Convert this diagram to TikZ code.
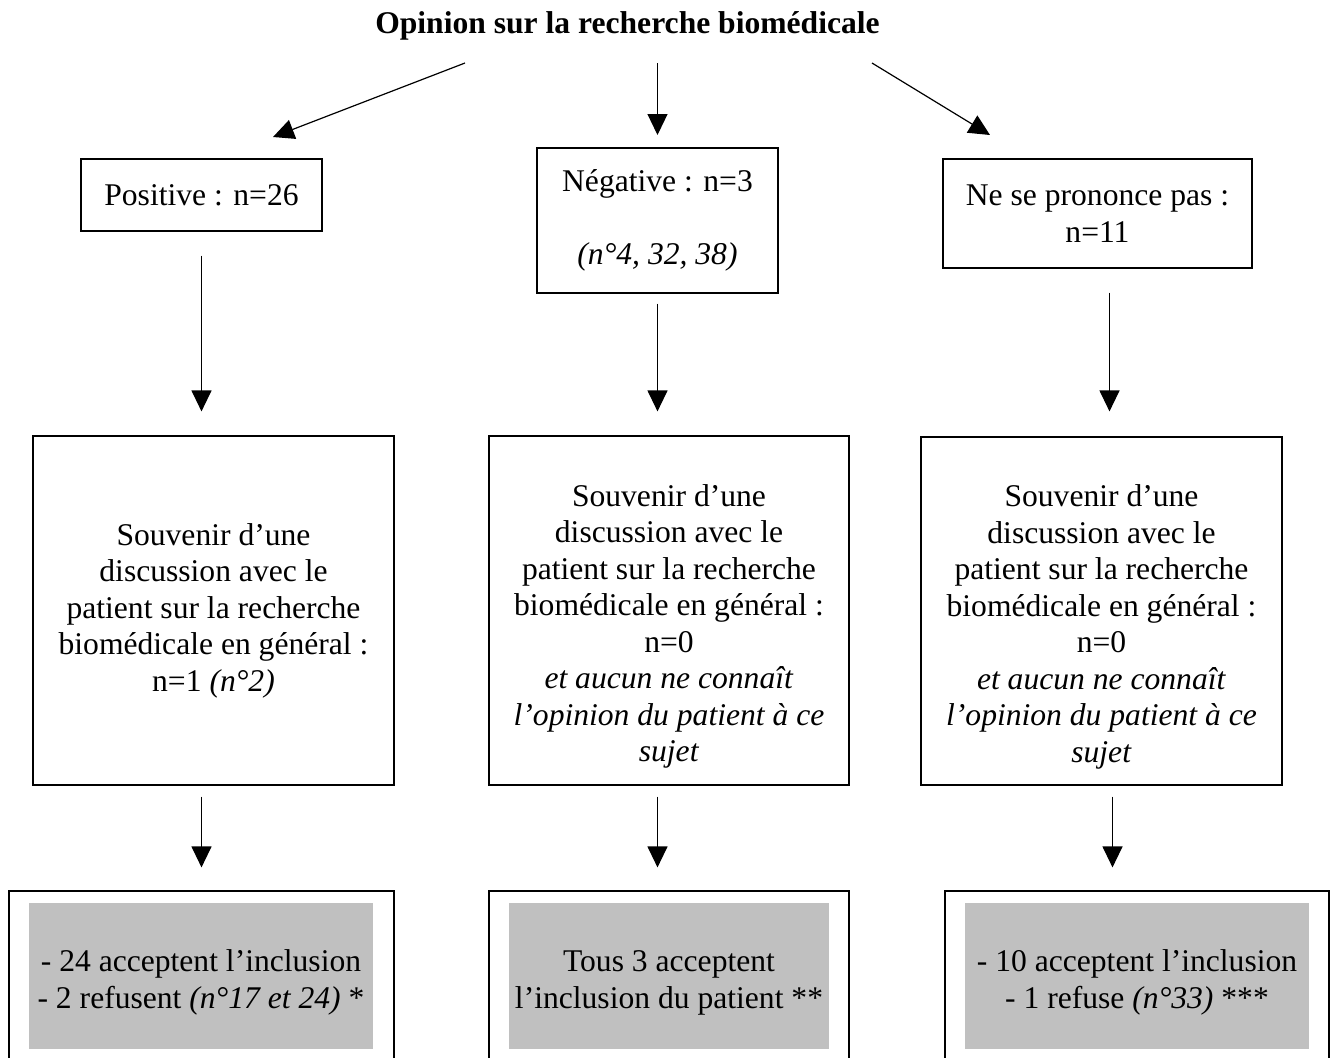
\documentclass[tikz,border=0pt]{standalone}
\definecolor{gris}{RGB}{192,192,192}
\usepackage{fontspec}
\setmainfont{Liberation Serif}
\usetikzlibrary{arrows.meta}
\newcommand{\taillecorps}{\fontsize{15.8}{18.25}\selectfont}

\begin{document}
\begin{tikzpicture}[x=0.5pt, y=-0.5pt,
    boite/.style={draw, line width=0.6pt, inner sep=0pt, align=center, font=\taillecorps},
    grise/.style={fill=gris, inner sep=0pt, align=center, font=\taillecorps},
    fleche/.style={-{Triangle[width=10pt,length=10.5pt]}, line width=0.6pt}]
        \useasboundingbox (0,0) rectangle (1334,1057);
        \clip (0,0) rectangle (1334,1057);

        % Titre
        \node[anchor=base, font=\taillecorps\bfseries] (titre) at (627.5,33) {Opinion sur la recherche biomédicale};

        % Opinions
        \node[boite, minimum width=120.5pt, minimum height=36pt] (pos) at (201.5,195) {Positive : n=26};
        \node[boite, minimum width=120.5pt, minimum height=72.5pt] (neg) at (657.5,220.5) {Négative : n=3\\[18.25pt]\textit{(n°4, 32, 38)}};
        \node[boite, minimum width=154.5pt, minimum height=54.5pt] (npp) at (1097.5,213.5) {Ne se prononce pas :\\n=11};

        % Souvenir d'une discussion
        \node[boite, minimum width=180.5pt, minimum height=174.5pt] (souv1) at (213.5,610.5) {Souvenir d’une\\discussion avec le\\patient sur la recherche\\biomédicale en général :\\n=1 \textit{(n°2)}};
        \node[boite, minimum width=180pt, minimum height=174.5pt] (souv2) at (669,610.5) {\rule{0pt}{27pt}Souvenir d’une\\discussion avec le\\patient sur la recherche\\biomédicale en général :\\n=0\\\textit{et aucun ne connaît}\\\textit{l’opinion du patient à ce}\\\textit{sujet}};
        \node[boite, minimum width=180.5pt, minimum height=174pt] (souv3) at (1101.5,611) {\rule{0pt}{27pt}Souvenir d’une\\discussion avec le\\patient sur la recherche\\biomédicale en général :\\n=0\\\textit{et aucun ne connaît}\\\textit{l’opinion du patient à ce}\\\textit{sujet}};

        % Inclusions
        \node[boite, minimum width=192.5pt, minimum height=93pt] (res1) at (201.5,984) {};
        \node[boite, minimum width=180pt, minimum height=93pt] (res2) at (669,984) {};
        \node[boite, minimum width=192pt, minimum height=93pt] (res3) at (1137,984) {};
        \node[grise, minimum width=172pt, minimum height=73pt] (txt1) at (201,976) {\rule{0pt}{17.5pt}- 24 acceptent l’inclusion\\- 2 refusent \textit{(n°17 et 24)} *};
        \node[grise, minimum width=160pt, minimum height=73pt] (txt2) at (669,976) {\rule{0pt}{17.5pt}Tous 3 acceptent\\l’inclusion du patient **};
        \node[grise, minimum width=172pt, minimum height=73pt] (txt3) at (1137,976) {\rule{0pt}{17.5pt}- 10 acceptent l’inclusion\\- 1 refuse \textit{(n°33)} ***};

        % Fleches du titre
        \coordinate (dep1) at (465,63);
        \coordinate (dep2) at (657.5,63);
        \coordinate (dep3) at (872,63);
        \coordinate (fin1) at (273,137);
        \coordinate (fin2) at (657.5,135);
        \coordinate (fin3) at (990,135);
        \draw[fleche] (dep1) -- (fin1);
        \draw[fleche] (dep2) -- (fin2);
        \draw[fleche] (dep3) -- (fin3);

        % Fleches vers les souvenirs
        \draw[fleche, shorten <=12pt, shorten >=12pt] (pos.south) -- (pos.south |- souv1.north);
        \draw[fleche, shorten <=5pt, shorten >=12pt] (neg.south) -- (neg.south |- souv2.north);
        \draw[fleche, shorten <=12pt, shorten >=12.5pt] ([xshift=6pt]npp.south) -- ([xshift=6pt]npp.south |- souv3.north);

        % Fleches vers les inclusions
        \draw[fleche, shorten <=5.5pt, shorten >=11.5pt] (pos.south |- souv1.south) -- (pos.south |- res1.north);
        \draw[fleche, shorten <=5.5pt, shorten >=11.5pt] (neg.south |- souv2.south) -- (neg.south |- res2.north);
        \draw[fleche, shorten <=5.5pt, shorten >=11.5pt] ([xshift=7.5pt]npp.south |- souv3.south) -- ([xshift=7.5pt]npp.south |- res3.north);
      \end{tikzpicture}
\end{document}
